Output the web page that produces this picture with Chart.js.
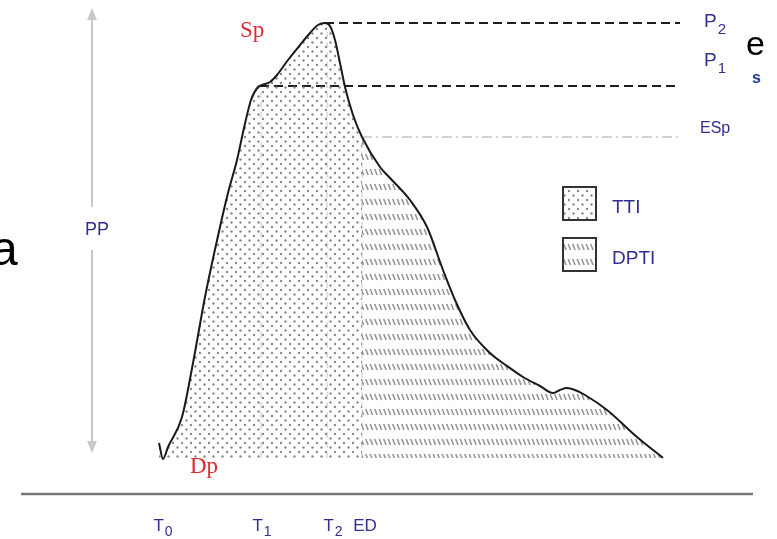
<!DOCTYPE html>
<html>
<head>
<meta charset="utf-8">
<script src="https://cdn.jsdelivr.net/npm/chart.js@4/dist/chart.umd.min.js"></script>
<style>
  html, body { margin: 0; padding: 0; background: #fff; }
  canvas { display: block; }
</style>
</head>
<body>
<canvas id="pressureChart" width="777" height="539"></canvas>
<script>

// aortic pressure curve (time / pressure in plot units)
var curveTime =     [159, 163, 168, 182, 193, 205, 220, 228, 237, 244, 251, 258, 262, 270, 277, 288, 300, 310, 318, 325, 330, 335, 340, 345, 353, 362, 380, 390, 410, 427, 443, 455, 470, 490, 507, 523, 540, 553, 560, 567, 575, 585, 607, 637, 663];
var curvePressure = [ 96,  80,  92, 122, 176, 242, 312, 346, 379, 411, 439, 452, 454, 457, 464, 479, 494, 506, 514, 516, 513, 499, 476, 452, 424, 402, 372, 361, 339, 312, 269, 239, 209, 186, 173, 162, 153, 146, 149, 151, 149, 144, 129, 102,  81];

// time markers on the bottom
var tickNames = ['T', 'T', 'T', 'ED'];
var tickSubs  = ['0', '1', '2', ''];
var tickTimes = [163, 262, 333, 365];

// pressure levels (dashed lines on the right)
var levelNames = ['P', 'P', 'ESp'];
var levelSubs  = ['2', '1', ''];
var levelValues = [516, 453, 402];
var levelStart  = [325, 260, 362];

var T1 = 261, T2 = 327, ED = 362;
var DP = 81;          // diastolic level, bottom of the shaded areas
var LINE_END = 680;
var AXIS_Y = 45;

var legendNames = ['TTI', 'DPTI'];

var NAVY = '#2f2f8e';
var RED = '#dc2a30';

// fill patterns
function makeDots() {
  var c = document.createElement('canvas');
  c.width = 9; c.height = 9;
  var g = c.getContext('2d');
  g.fillStyle = '#8a8a8a';
  g.beginPath(); g.arc(2, 2, 1.2, 0, Math.PI * 2); g.fill();
  g.beginPath(); g.arc(6.5, 6.5, 1.2, 0, Math.PI * 2); g.fill();
  return c;
}
function makeHatch() {
  var c = document.createElement('canvas');
  c.width = 9; c.height = 15;
  var g = c.getContext('2d');
  g.strokeStyle = '#969696';
  g.lineWidth = 1.6;
  g.beginPath();
  g.moveTo(1.2, 4); g.lineTo(3.6, 10);
  g.moveTo(5.7, 4); g.lineTo(8.1, 10);
  g.stroke();
  return c;
}
var tmp = document.createElement('canvas').getContext('2d');
var dotFill = tmp.createPattern(makeDots(), 'repeat');
var hatchFill = tmp.createPattern(makeHatch(), 'repeat');

function pts(xs, ys) {
  return xs.map(function (x, i) { return {x: x, y: ys[i]}; });
}
function seg(x1, y1, x2, y2) {
  return [{x: x1, y: y1}, {x: x2, y: y2}];
}

function subText(ctx, main, sub, x, y, size, subSize, drop, align) {
  var f1 = size + 'px "Liberation Sans", Arial, sans-serif';
  var f2 = subSize + 'px "Liberation Sans", Arial, sans-serif';
  ctx.font = f1;
  var w1 = ctx.measureText(main).width;
  ctx.font = f2;
  var w2 = sub ? ctx.measureText(sub).width + 1 : 0;
  var left = align === 'center' ? x - (w1 + w2) / 2 : x;
  ctx.textAlign = 'left';
  ctx.textBaseline = 'alphabetic';
  ctx.font = f1;
  ctx.fillText(main, left, y);
  if (sub) {
    ctx.font = f2;
    ctx.fillText(sub, left + w1 + 1, y + drop);
  }
}

var annotations = {
  id: 'annotations',
  afterDatasetsDraw: function (chart) {
    var ctx = chart.ctx;
    var xs = chart.scales.x, ys = chart.scales.y;
    ctx.save();

    // PP double arrow
    var ax = xs.getPixelForValue(92);
    var top = ys.getPixelForValue(531), bot = ys.getPixelForValue(86);
    ctx.strokeStyle = '#c8c8c8';
    ctx.fillStyle = '#c8c8c8';
    ctx.lineWidth = 2;
    ctx.beginPath();
    ctx.moveTo(ax, top + 10); ctx.lineTo(ax, 207);
    ctx.moveTo(ax, 250); ctx.lineTo(ax, bot - 10);
    ctx.stroke();
    ctx.beginPath();
    ctx.moveTo(ax, top); ctx.lineTo(ax - 5, top + 12); ctx.lineTo(ax + 5, top + 12); ctx.closePath();
    ctx.moveTo(ax, bot); ctx.lineTo(ax - 5, bot - 12); ctx.lineTo(ax + 5, bot - 12); ctx.closePath();
    ctx.fill();

    ctx.fillStyle = NAVY;
    ctx.font = '18px "Liberation Sans", Arial, sans-serif';
    ctx.textAlign = 'center';
    ctx.fillText('PP', ax + 5, 235);

    // Sp / Dp
    ctx.fillStyle = RED;
    ctx.font = '23px "Liberation Serif", "Times New Roman", serif';
    ctx.textAlign = 'left';
    ctx.fillText('Sp', 240, 37);
    ctx.fillText('Dp', 190, 473);

    // level labels
    ctx.fillStyle = NAVY;
    subText(ctx, levelNames[0], levelSubs[0], 704, 27, 19, 15, 7, 'left');
    subText(ctx, levelNames[1], levelSubs[1], 704, 66, 19, 15, 7, 'left');
    subText(ctx, levelNames[2], levelSubs[2], 700, 133, 16, 12, 0, 'left');

    // time labels
    for (var i = 0; i < tickTimes.length; i++) {
      subText(ctx, tickNames[i], tickSubs[i], xs.getPixelForValue(tickTimes[i]), 531, 17, 14, 5, 'center');
    }

    // legend
    var fills = [dotFill, hatchFill];
    for (var k = 0; k < 2; k++) {
      var by = 186 + k * 51;
      ctx.fillStyle = '#fff';
      ctx.fillRect(562, by, 35, 35);
      ctx.fillStyle = fills[k];
      ctx.fillRect(562, by, 35, 35);
      ctx.strokeStyle = '#333';
      ctx.lineWidth = 2;
      ctx.strokeRect(563, by + 1, 33, 33);
      ctx.fillStyle = NAVY;
      ctx.font = '19px "Liberation Sans", Arial, sans-serif';
      ctx.fillText(legendNames[k], 612, by + 27);
    }

    // cut-off letters at the edges of the original figure
    ctx.fillStyle = '#000';
    ctx.font = '48px "Liberation Sans", Arial, sans-serif';
    ctx.fillText('a', -9, 265);
    ctx.font = '34px "Liberation Sans", Arial, sans-serif';
    ctx.fillText('e', 746, 55);
    ctx.fillStyle = '#1e3c9c';
    ctx.font = 'bold 16px "Liberation Sans", Arial, sans-serif';
    ctx.fillText('s', 752, 83);

    ctx.restore();
  }
};

var ctx = document.getElementById('pressureChart').getContext('2d');
new Chart(ctx, {
  type: 'scatter',
  data: {
    datasets: [{
      label: 'pressure',
      data: pts(curveTime, curvePressure),
      showLine: true,
      borderColor: '#1a1a1a',
      borderWidth: 2,
      pointRadius: 0,
      cubicInterpolationMode: 'monotone',
      fill: {value: DP},
      backgroundColor: dotFill,
      segment: {
        backgroundColor: function (c) { return c.p0.parsed.x >= ED ? hatchFill : dotFill; }
      }
    }, {
      data: seg(levelStart[0], levelValues[0], LINE_END, levelValues[0]),
      showLine: true, borderColor: '#1e1e1e', borderWidth: 2.2, borderDash: [9, 5], pointRadius: 0
    }, {
      data: seg(levelStart[1], levelValues[1], LINE_END, levelValues[1]),
      showLine: true, borderColor: '#1e1e1e', borderWidth: 2.2, borderDash: [9, 5], pointRadius: 0
    }, {
      data: seg(levelStart[2], levelValues[2], LINE_END, levelValues[2]),
      showLine: true, borderColor: '#c4c4c4', borderWidth: 1.5, borderDash: [10, 4, 2, 4], pointRadius: 0
    }, {
      data: seg(T1, DP, T1, levelValues[1]),
      showLine: true, borderColor: 'rgba(160,160,160,0.6)', borderWidth: 1, borderDash: [6, 4], pointRadius: 0
    }, {
      data: seg(T2, DP, T2, levelValues[0] - 4),
      showLine: true, borderColor: 'rgba(160,160,160,0.6)', borderWidth: 1, borderDash: [6, 4], pointRadius: 0
    }, {
      data: seg(ED, DP, ED, levelValues[2]),
      showLine: true, borderColor: 'rgba(160,160,160,0.6)', borderWidth: 1, borderDash: [6, 4], pointRadius: 0
    }, {
      data: seg(21, AXIS_Y, 753, AXIS_Y),
      showLine: true, borderColor: '#777', borderWidth: 2.5, pointRadius: 0
    }]
  },
  options: {
    responsive: false,
    devicePixelRatio: 1,
    animation: false,
    layout: {padding: 0},
    scales: {
      x: {type: 'linear', min: 0, max: 777, display: false},
      y: {type: 'linear', min: 0, max: 539, display: false}
    },
    plugins: {
      legend: {display: false},
      tooltip: {enabled: false}
    }
  },
  plugins: [annotations]
});
</script>
</body>
</html>
